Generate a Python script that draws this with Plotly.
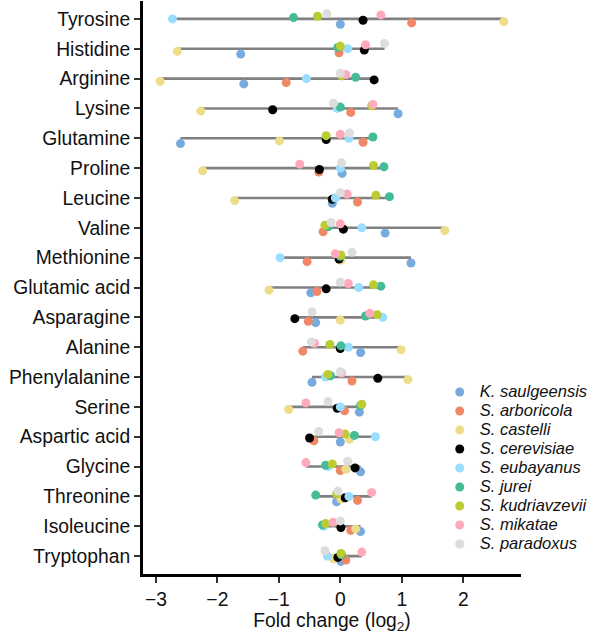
import plotly.graph_objects as go

amino_acids = ["Tyrosine", "Histidine", "Arginine", "Lysine", "Glutamine", "Proline",
               "Leucine", "Valine", "Methionine", "Glutamic acid", "Asparagine", "Alanine",
               "Phenylalanine", "Serine", "Aspartic acid", "Glycine", "Threonine",
               "Isoleucine", "Tryptophan"]

species = ["K. saulgeensis", "S. arboricola", "S. castelli", "S. cerevisiae", "S. eubayanus",
           "S. jurei", "S. kudriavzevii", "S. mikatae", "S. paradoxus"]

colors = ["#77AADD", "#EE8866", "#EEDD88", "#000000", "#99DDFF",
          "#44BB99", "#BBCC33", "#FFAABB", "#DDDDDD"]

# log2 fold change, in the amino_acids order above
k_saulgeensis = [0.0, -1.62, -1.57, 0.94, -2.60, 0.03, -0.13, 0.73, 1.15, -0.48, -0.40, 0.33, -0.46, 0.31, 0.0, 0.33, -0.06, 0.33, 0.01]
s_arboricola = [1.16, -0.02, -0.88, 0.17, 0.37, -0.35, 0.28, -0.28, -0.54, -0.38, -0.52, -0.61, 0.19, 0.07, -0.43, 0.0, 0.28, 0.17, 0.09]
s_castelli = [2.66, -2.65, -2.93, -2.27, -0.99, -2.24, -1.72, 1.70, 0.01, -1.16, 0.0, 0.99, 1.10, -0.84, 0.15, 0.09, 0.01, 0.25, -0.11]
s_cerevisiae = [0.37, 0.39, 0.55, -1.10, -0.23, -0.34, -0.13, 0.05, -0.02, -0.23, -0.74, 0.0, 0.61, -0.05, -0.50, 0.24, 0.08, 0.01, -0.04]
s_eubayanus = [-2.73, 0.12, -0.55, -0.05, 0.14, 0.0, -0.08, 0.35, -0.98, 0.30, 0.69, 0.13, -0.24, 0.0, 0.57, -0.20, 0.14, -0.27, -0.21]
s_jurei = [-0.76, -0.04, 0.25, 0.0, 0.53, 0.71, 0.80, -0.19, 0.0, 0.66, 0.41, 0.01, -0.16, 0.33, 0.23, -0.24, -0.40, -0.29, 0.02]
s_kudriavzevii = [-0.37, 0.0, 0.02, 0.51, -0.23, 0.54, 0.58, -0.25, 0.01, 0.54, 0.60, -0.17, -0.20, 0.35, 0.08, -0.13, -0.06, -0.24, 0.01]
s_mikatae = [0.66, 0.41, 0.09, 0.53, 0.0, -0.66, 0.11, 0.0, -0.08, 0.13, 0.48, -0.42, 0.02, -0.56, -0.02, -0.56, 0.51, -0.12, 0.35]
s_paradoxus = [-0.22, 0.72, 0.0, -0.11, 0.15, 0.02, 0.0, -0.15, 0.19, 0.0, -0.46, -0.47, 0.0, -0.20, -0.35, 0.12, -0.04, 0.0, -0.25]

series = [k_saulgeensis, s_arboricola, s_castelli, s_cerevisiae, s_eubayanus,
          s_jurei, s_kudriavzevii, s_mikatae, s_paradoxus]

x_ticks = [-3, -2, -1, 0, 1, 2]

FONT = "Liberation Sans, Arial, Helvetica, sans-serif"
FS = 19.3
DODGE = 0.4  # total dodge width in category units
n_cat = len(amino_acids)
n_sp = len(species)
# top category (first in list) is at the top of the axis
pos = {aa: n_cat - 1 - i for i, aa in enumerate(amino_acids)}

fig = go.Figure()

# grey range lines (min to max per amino acid)
lx, ly = [], []
for j, aa in enumerate(amino_acids):
    vals = [s[j] for s in series]
    lx += [min(vals), max(vals), None]
    ly += [pos[aa], pos[aa], None]
fig.add_trace(go.Scatter(x=lx, y=ly, mode="lines", line=dict(color="#808080", width=2.6),
                         showlegend=False, hoverinfo="skip"))

for i, (name, vals, col) in enumerate(zip(species, series, colors)):
    off = ((i + 0.5) / n_sp - 0.5) * DODGE
    fig.add_trace(go.Scatter(
        x=vals,
        y=[pos[aa] + off for aa in amino_acids],
        mode="markers",
        marker=dict(color=col, size=9, line=dict(width=0)),
        name=f'<span style="font-size:16.5px;font-style:italic">{name}</span>',
    ))

allv = [v for s in series for v in s]
span = max(allv) - min(allv)
xr = [min(allv) - 0.05 * span, max(allv) + 0.05 * span]

fig.update_layout(
    width=594, height=634,
    margin=dict(l=143, r=65, t=1, b=60),
    paper_bgcolor="white", plot_bgcolor="white",
    font=dict(family=FONT, color="#111111", size=FS),
    showlegend=True,
    legend=dict(x=0.785, y=0.343, xanchor="left", yanchor="top",
                font=dict(family=FONT, size=12, color="#111111"),
                bgcolor="rgba(0,0,0,0)", borderwidth=0, tracegroupgap=0),
)
fig.update_xaxes(range=xr, tickvals=x_ticks, showgrid=False, zeroline=False,
                 showline=True, linecolor="black", linewidth=3,
                 ticks="outside", ticklen=6, tickwidth=2, tickcolor="#333333",
                 tickfont=dict(size=FS, family=FONT, color="#111111"),
                 title=dict(text="Fold change (log<sub>2</sub>)",
                            font=dict(size=FS, family=FONT, color="#111111"), standoff=6))
fig.update_yaxes(range=[-0.6, n_cat - 0.4], tickvals=[pos[a] for a in amino_acids],
                 ticktext=amino_acids, showgrid=False, zeroline=False,
                 showline=True, linecolor="black", linewidth=3,
                 ticks="outside", ticklen=6, tickwidth=2, tickcolor="#333333",
                 tickfont=dict(size=FS, family=FONT, color="#111111"))

fig.write_html("out.html")
